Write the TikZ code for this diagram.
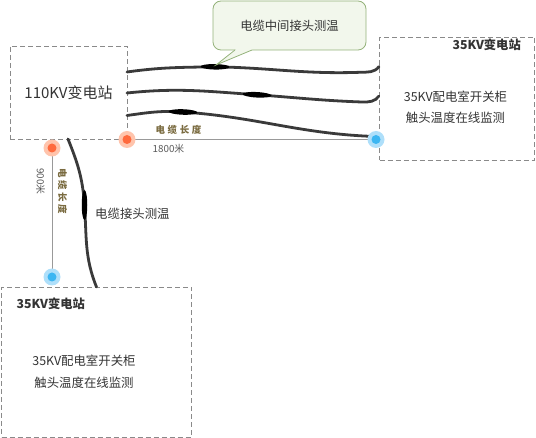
\documentclass[tikz,border=0pt]{standalone}
\usepackage{fontspec}
\setmainfont{Noto Sans CJK SC}
\usetikzlibrary{shapes.geometric,calc}
\definecolor{boxline}{HTML}{8A8A8A}
\definecolor{txt}{HTML}{333333}
\definecolor{cable}{HTML}{3A3A3A}
\definecolor{calloutfill}{HTML}{F2F7EC}
\definecolor{calloutline}{HTML}{94B27A}
\definecolor{lenlabel}{HTML}{7A6B40}
\definecolor{orangec}{HTML}{FF6A3D}
\definecolor{orangeh}{HTML}{FFC4AC}
\definecolor{bluec}{HTML}{3CB6F2}
\definecolor{blueh}{HTML}{AEDFFA}
\tikzset{
  stationbox/.style={draw=boxline, line width=0.9pt, dash pattern=on 5pt off 3pt, inner sep=0pt},
  cableline/.style={draw=cable, line width=2.8pt, line cap=round},
  jointmark/.style={ellipse, fill=black, inner sep=0pt},
  gauge/.style={draw=black!40, line width=0.6pt},
  dothalo/.style={circle, inner sep=0pt, minimum size=17pt},
  dotcore/.style={circle, inner sep=0pt, minimum size=9pt},
  bodytext/.style={text=txt, font=\fontsize{12.4}{14}\selectfont, inner sep=1pt},
  titletext/.style={text=txt, font=\bfseries\fontsize{12.3}{14}\selectfont, inner sep=0pt},
  lentext/.style={text=lenlabel, font=\bfseries\fontsize{9.5}{11}\selectfont, inner sep=0pt},
  metertext/.style={text=black!65, font=\fontsize{9.8}{11}\selectfont, inner sep=0pt},
}
\newcommand{\lensp}{\hspace{2.6pt}}
\begin{document}
\begin{tikzpicture}[x=1pt,y=1pt]
\useasboundingbox (0,0) rectangle (536,-438);

% station boxes
\node[stationbox, minimum width=117pt, minimum height=93pt, text=txt, font=\fontsize{15}{17}\selectfont] (s110) at (68.5,-92.5) {110KV变电站};
\node[stationbox, minimum width=155pt, minimum height=123pt] (sright) at (457,-98.5) {};
\node[stationbox, minimum width=190pt, minimum height=150pt] (sbottom) at (96.5,-362) {};

\node[titletext, anchor=east] (trt) at (521,-44.5) {35KV变电站};
\node[bodytext] (rl1) at (455.5,-97) {35KV配电室开关柜};
\node[bodytext] (rl2) at (455.5,-118) {触头温度在线监测};

\node[titletext, anchor=west] (tbt) at (16.5,-304) {35KV变电站};
\node[bodytext] (bl1) at (84,-361) {35KV配电室开关柜};
\node[bodytext] (bl2) at (84,-383) {触头温度在线监测};

% gauge lines
\coordinate (go1) at (127,-139.5);
\coordinate (gb1) at (376,-139.5);
\coordinate (go2) at (52,-148);
\coordinate (gb2) at (52,-277);
\draw[gauge] (go1) -- (gb1);
\draw[gauge] (go2) -- (gb2);

% cables to the right station
\coordinate (c1s) at (127,-72);
\coordinate (c1e) at (379,-66.5);
\coordinate (c2s) at (127,-93);
\coordinate (c2e) at (379,-96);
\coordinate (c3s) at (127,-115.5);
\coordinate (c3e) at (375,-136.5);
\coordinate (j1) at (215,-66.8);
\coordinate (j2) at (257,-94.8);
\coordinate (j3) at (183,-112);
\draw[cableline] (c1s) to[out=8,in=181] (j1) to[out=-1,in=182] (360,-72.3) to[out=2,in=235] (c1e);
\draw[cableline] (c2s) to[out=6,in=176] (j2) to[out=-4,in=178] (362,-102) to[out=-2,in=235] (c2e);
\draw[cableline] (c3s) to[out=8,in=176] (j3) to[out=-4,in=178] (c3e);

% vertical cable
\coordinate (v1s) at (68,-139);
\coordinate (v1e) at (96.5,-287);
\coordinate (jv) at (84.5,-205);
\draw[cableline] (v1s) to[out=-68,in=94] (jv) to[out=-86,in=112] (v1e);

% joints
\node[jointmark, minimum width=29pt, minimum height=5.5pt, rotate=-1] (jm1) at (j1) {};
\node[jointmark, minimum width=29pt, minimum height=5.5pt, rotate=-3] (jm2) at (j2) {};
\node[jointmark, minimum width=29pt, minimum height=5.5pt, rotate=-2] (jm3) at (j3) {};
\node[jointmark, minimum width=5.5pt, minimum height=30pt] (jmv) at (jv) {};

% dots
\node[dothalo, fill=orangeh] at (go1) {};
\node[dotcore, fill=orangec] (d1) at (go1) {};
\node[dothalo, fill=blueh] at (gb1) {};
\node[dotcore, fill=bluec] (d2) at (gb1) {};
\node[dothalo, fill=orangeh] at (go2) {};
\node[dotcore, fill=orangec] (d3) at (go2) {};
\node[dothalo, fill=blueh] at (gb2) {};
\node[dotcore, fill=bluec] (d4) at (gb2) {};

% length labels
\node[lentext] (len1) at (178.5,-129.5) {\mbox{电}\lensp\mbox{缆}\lensp\mbox{长}\lensp\mbox{度}};
\node[metertext] (m1) at (168.5,-148.5) {1800米};
\node[lentext, rotate=-90] (len2) at (62.5,-191.5) {\mbox{电}\lensp\mbox{缆}\lensp\mbox{长}\lensp\mbox{度}};
\node[metertext, rotate=-90] (m2) at (40.5,-181.5) {900米};

% joint label
\node[bodytext, anchor=west] (vlabel) at (94,-214) {电缆接头测温};

% callout
\node[draw=calloutline, fill=calloutfill, line width=0.8pt, rounded corners=8pt, minimum width=153pt, minimum height=49pt, text=txt, font=\fontsize{12.3}{14}\selectfont] (callout) at (289.5,-25.5) {电缆中间接头测温};
\fill[calloutfill] (235.5,-49) -- (235.5,-50) -- (216,-65) -- (252,-50) -- (252,-49) -- cycle;
\draw[calloutline, line width=0.8pt] (235,-50) -- (216,-65) -- (252,-50);
\end{tikzpicture}
\end{document}
